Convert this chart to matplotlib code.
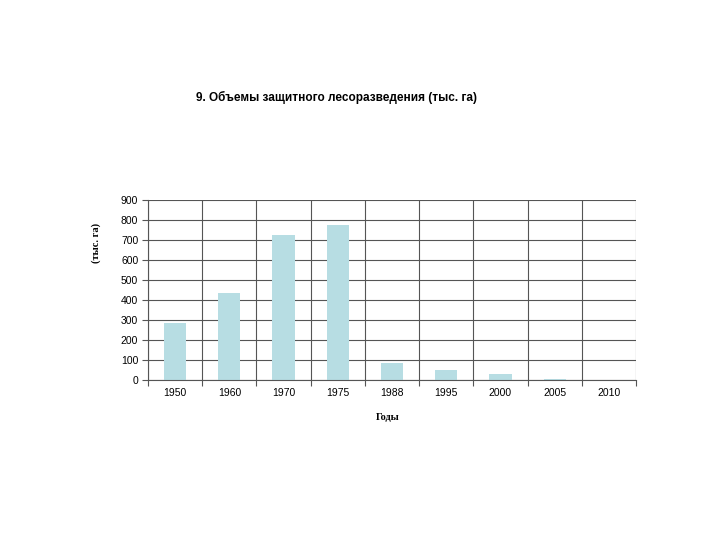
import matplotlib
matplotlib.use("Agg")
import matplotlib.pyplot as plt
import numpy as np

years = ["1950", "1960", "1970", "1975", "1988", "1995", "2000", "2005", "2010"]
values = [285, 435, 725, 775, 85, 50, 30, 4, 0]
yticks = [0, 100, 200, 300, 400, 500, 600, 700, 800, 900]

fig = plt.figure(figsize=(7.2, 5.4), dpi=100)
ax = fig.add_axes([148/720, 1-380/540, (636-148)/720, 180/540])

x = np.arange(len(years))
ax.bar(x, values, width=0.41, color="#b7dde3", zorder=2)
ax.set_xlim(-0.5, len(years)-0.5)
ax.set_ylim(0, 900)
ax.set_yticks(yticks)
ax.set_yticklabels([str(v) for v in yticks], fontsize=7.5, family="Liberation Sans")
ax.set_xticks(x)
ax.set_xticklabels(years, fontsize=7.5, family="Liberation Sans")
ax.tick_params(axis="x", length=0, pad=6)
ax.tick_params(axis="y", length=4, width=0.8, color="#555555", pad=3)
# boundaries
ax.set_xticks(np.arange(-0.5, len(years)), minor=True)
ax.tick_params(axis="x", which="minor", length=4, width=0.8, color="#555555")
ax.grid(True, axis="y", which="major", color="#555555", lw=0.8, zorder=0)
ax.grid(True, axis="x", which="minor", color="#555555", lw=0.8, zorder=0)
for s in ["top", "right"]:
    ax.spines[s].set_visible(False)
ax.spines["left"].set_color("#555555")
ax.spines["bottom"].set_color("#555555")
ax.spines["left"].set_linewidth(0.8)
ax.spines["bottom"].set_linewidth(0.8)

fig.text(337/720, 1-97/540, "9. Объемы защитного лесоразведения (тыс. га)",
         ha="center", va="center", fontsize=8.5, fontweight="bold", family="Liberation Sans")
fig.text(96/720, 1-243/540, "(тыс. га)", rotation=90, ha="center", va="center",
         fontsize=7.5, fontweight="bold", family="Liberation Serif")
fig.text(388/720, 1-417/540, "Годы", ha="center", va="center",
         fontsize=7.5, fontweight="bold", family="Liberation Serif")

fig.savefig("out.png", dpi=100)
